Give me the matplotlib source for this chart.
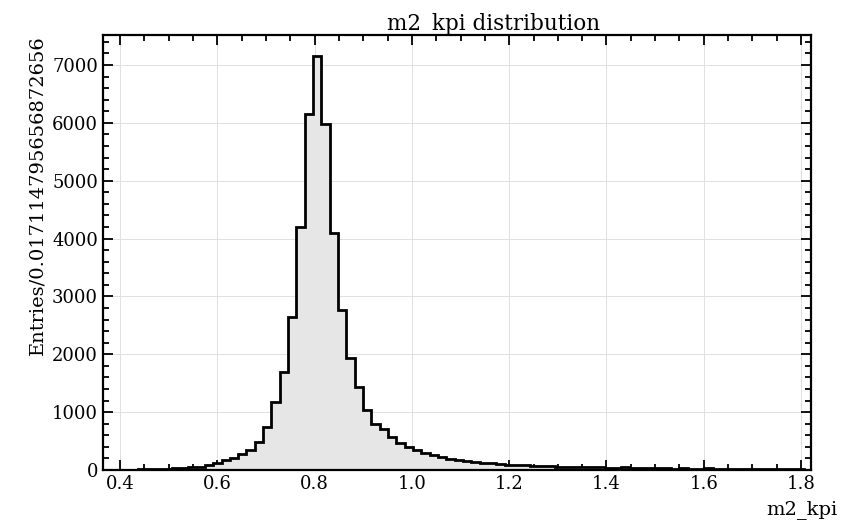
import numpy as np
import matplotlib
matplotlib.use("Agg")
import matplotlib.pyplot as plt
from matplotlib.ticker import MultipleLocator

bin_width = 0.017114795656872656
x_start = 0.4375
counts = [
    12, 15, 20, 25, 30, 36, 45, 58, 85, 125,
    165, 200, 275, 345, 490, 740, 1170, 1700, 2650, 4200,
    6150, 7150, 5980, 4100, 2770, 1940, 1430, 1040, 800, 710,
    570, 460, 400, 345, 300, 265, 225, 195, 180, 160,
    135, 125, 115, 105, 95, 90, 80, 75, 70, 65,
    60, 58, 55, 50, 45, 46, 42, 38, 44, 40,
    38, 35, 28, 30, 26, 28, 25, 22, 27, 24,
    20, 24, 18, 20, 17, 19, 15, 16, 14, 15,
]
title = "m2_kpi distribution"
xlabel = "m2_kpi"
ylabel = "Entries/0.017114795656872656"

edges = x_start + bin_width * np.arange(len(counts) + 1)

plt.rcParams['font.family'] = ['DejaVu Serif']
fig = plt.figure(figsize=(8.61, 5.22), dpi=100)
ax = fig.add_axes([0.1196, 0.0996, 0.8224, 0.8334])

ax.stairs(counts, edges, fill=True, color='#e6e6e6', zorder=2)
ax.stairs(counts, edges, color='black', linewidth=2.0, zorder=3)

ax.set_xlim(0.365, 1.8205)
ax.set_ylim(0, 7520)
ax.xaxis.set_major_locator(MultipleLocator(0.2))
ax.xaxis.set_minor_locator(MultipleLocator(0.05))
ax.yaxis.set_major_locator(MultipleLocator(1000))
ax.yaxis.set_minor_locator(MultipleLocator(200))
ax.tick_params(which='both', direction='in', top=True, right=True, labelsize=13, width=1.3)
ax.tick_params(which='major', length=7)
ax.tick_params(which='minor', length=4)
for s in ax.spines.values():
    s.set_linewidth(1.6)
ax.grid(True, which='major', color='#e0e0e0', linewidth=0.7, zorder=0)
ax.set_axisbelow(True)

ax.set_title(title, fontsize=15.5, pad=3, x=0.551)
ax.set_xlabel(xlabel, fontsize=14)
ax.xaxis.set_label_coords(1.038, -0.07)
ax.xaxis.label.set_horizontalalignment('right')
ax.set_ylabel(ylabel, fontsize=14, loc='top')

fig.savefig("out.png", dpi=100)
